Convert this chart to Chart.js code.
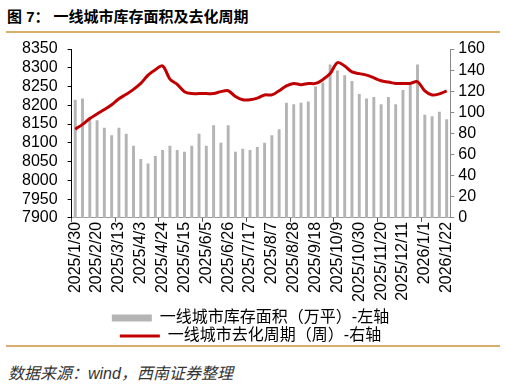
<!DOCTYPE html>
<html>
<head>
<meta charset="utf-8">
<script src="https://cdn.jsdelivr.net/npm/chart.js@4"></script>
<style>
  body { margin: 0; width: 507px; height: 384px; background: #fff; position: relative; overflow: hidden; }
  #title { position: absolute; left: 7px; top: 5px; font: bold 15px "Liberation Sans", "Noto Sans CJK SC"; color: #000; }
  #title span { margin-left: 4px; }
  .rule { position: absolute; left: 6px; width: 494px; height: 2px; background: #d9ad6c; }
  #source { position: absolute; left: 8px; top: 360px; font: italic 16px "Liberation Sans", "Noto Sans CJK SC"; color: #333; }
  #wrap { position: absolute; left: 0; top: 31px; width: 507px; height: 323px; }
</style>
</head>
<body>
<div id="title">图 7：<span>一线城市库存面积及去化周期</span></div>
<div class="rule" style="top:31px"></div>
<div id="wrap"><canvas id="invChart"></canvas></div>
<div class="rule" style="top:345px"></div>
<div id="source">数据来源：wind，西南证券整理</div>
<script>
// Tier-1 city inventory vs. destocking cycle

const weeks = [
    "2025/1/30", "2025/2/6", "2025/2/13", "2025/2/20", "2025/2/27", "2025/3/6", "2025/3/13", "2025/3/20", "2025/3/27",
    "2025/4/3", "2025/4/10", "2025/4/17", "2025/4/24", "2025/5/1", "2025/5/8", "2025/5/15", "2025/5/22", "2025/5/29",
    "2025/6/5", "2025/6/12", "2025/6/19", "2025/6/26", "2025/7/3", "2025/7/10", "2025/7/17", "2025/7/24", "2025/7/31",
    "2025/8/7", "2025/8/14", "2025/8/21", "2025/8/28", "2025/9/4", "2025/9/11", "2025/9/18", "2025/9/25", "2025/10/2",
    "2025/10/9", "2025/10/16", "2025/10/23", "2025/10/30", "2025/11/6", "2025/11/13", "2025/11/20", "2025/11/27", "2025/12/4",
    "2025/12/11", "2025/12/18", "2025/12/25", "2026/1/1", "2026/1/8", "2026/1/15", "2026/1/22"
];

// 库存面积（万平）- left axis
const inventory = [
    8215, 8218, 8166, 8160, 8140, 8120, 8140, 8124, 8092, 8057,
    8045, 8065, 8081, 8092, 8081, 8076, 8092, 8124, 8092, 8147,
    8100, 8147, 8076, 8084, 8081, 8089, 8100, 8120, 8136, 8207,
    8203, 8207, 8210, 8250, 8261, 8309, 8293, 8280, 8265, 8230,
    8218, 8222, 8203, 8222, 8203, 8241, 8254, 8309, 8175, 8171,
    8183, 8163
];

// 去化周期（周）- right axis
const cycleWeeks = [
    84, 88.6, 94.2, 98.5, 102.6, 107.2, 112.8, 117.1, 121.8, 127.4,
    135.2, 140.4, 143.9, 131.5, 126.4, 119.6, 117.8, 117.8, 117.8, 117.8,
    119.6, 120.5, 115, 111.9, 111.9, 113.4, 116.5, 116.5, 120.5, 125,
    127.4, 126.2, 127.4, 127.4, 131, 136.7, 147, 143.9, 138.3, 136.7,
    135.2, 132.7, 129.9, 128.7, 127.4, 127.4, 127.4, 129, 120.3, 116.5,
    117.5, 120.3
];

const colors = {
    bar: "#b4b4b4",
    line: "#c00000",
    text: "#000"
};

const fontFamily = '"Liberation Sans", "Noto Sans CJK SC", sans-serif';

const ctx = document.getElementById("invChart");

new Chart(ctx, {
    type: "bar",
    data: {
        labels: weeks,
        datasets: [{
            label: "一线城市库存面积（万平）-左轴",
            data: inventory,
            backgroundColor: colors.bar,
            yAxisID: "y",
            categoryPercentage: 0.8,
            barPercentage: 0.5,
            order: 2
        }, {
            type: "line",
            label: "一线城市去化周期（周）-右轴",
            data: cycleWeeks,
            borderColor: colors.line,
            backgroundColor: colors.line,
            borderWidth: 3,
            pointRadius: 0,
            tension: 0.35,
            yAxisID: "y1",
            order: 1
        }]
    },
    options: {
        responsive: true,
        maintainAspectRatio: false,
        animation: false,
        layout: { padding: { left: 12, right: 18, top: 0, bottom: 0 } },
        plugins: {
            tooltip: { enabled: false },
            legend: {
                position: "bottom",
                labels: {
                    usePointStyle: true,
                    pointStyleWidth: 40,
                    boxHeight: 7,
                    padding: 2,
                    color: "#222",
                    font: { family: fontFamily, size: 16 },
                    generateLabels: chart => [
                        {
                            text: chart.data.datasets[0].label,
                            fillStyle: colors.bar, strokeStyle: colors.bar,
                            lineWidth: 0, pointStyle: "rect", datasetIndex: 0, hidden: false
                        },
                        {
                            text: chart.data.datasets[1].label,
                            fillStyle: colors.line, strokeStyle: colors.line,
                            lineWidth: 3, pointStyle: "line", datasetIndex: 1, hidden: false
                        }
                    ]
                }
            }
        },
        scales: {
            x: {
                grid: {
                    drawOnChartArea: false,
                    tickLength: 4,
                    tickColor: c => (c.index % 6 === 0 ? "#555" : "rgba(0,0,0,0)")
                },
                border: { color: "#999" },
                ticks: {
                    autoSkip: false,
                    minRotation: 90,
                    maxRotation: 90,
                    padding: 0,
                    color: colors.text,
                    font: { family: fontFamily, size: 16 },
                    callback: function (v, i) { return i % 3 === 0 ? this.getLabelForValue(v) : ""; }
                },
                // leave a little room between the date labels and the legend
                afterFit: scale => { scale.height += 6; }
            },
            y: {
                position: "left",
                min: 7900,
                max: 8350,
                grid: { drawOnChartArea: false, tickLength: 4, tickColor: "#000" },
                border: { color: "#000" },
                ticks: {
                    stepSize: 50,
                    autoSkip: false,
                    padding: 10,
                    color: colors.text,
                    font: { family: fontFamily, size: 16, lineHeight: 1 },
                    callback: v => String(v)
                }
            },
            y1: {
                position: "right",
                min: 0,
                max: 160,
                grid: { drawOnChartArea: false, tickLength: 4, tickColor: "#888" },
                border: { color: "#888" },
                ticks: {
                    stepSize: 20,
                    autoSkip: false,
                    padding: 4,
                    color: colors.text,
                    font: { family: fontFamily, size: 16, lineHeight: 1 },
                    callback: v => String(v)
                }
            }
        }
    }
});
</script>
</body>
</html>
